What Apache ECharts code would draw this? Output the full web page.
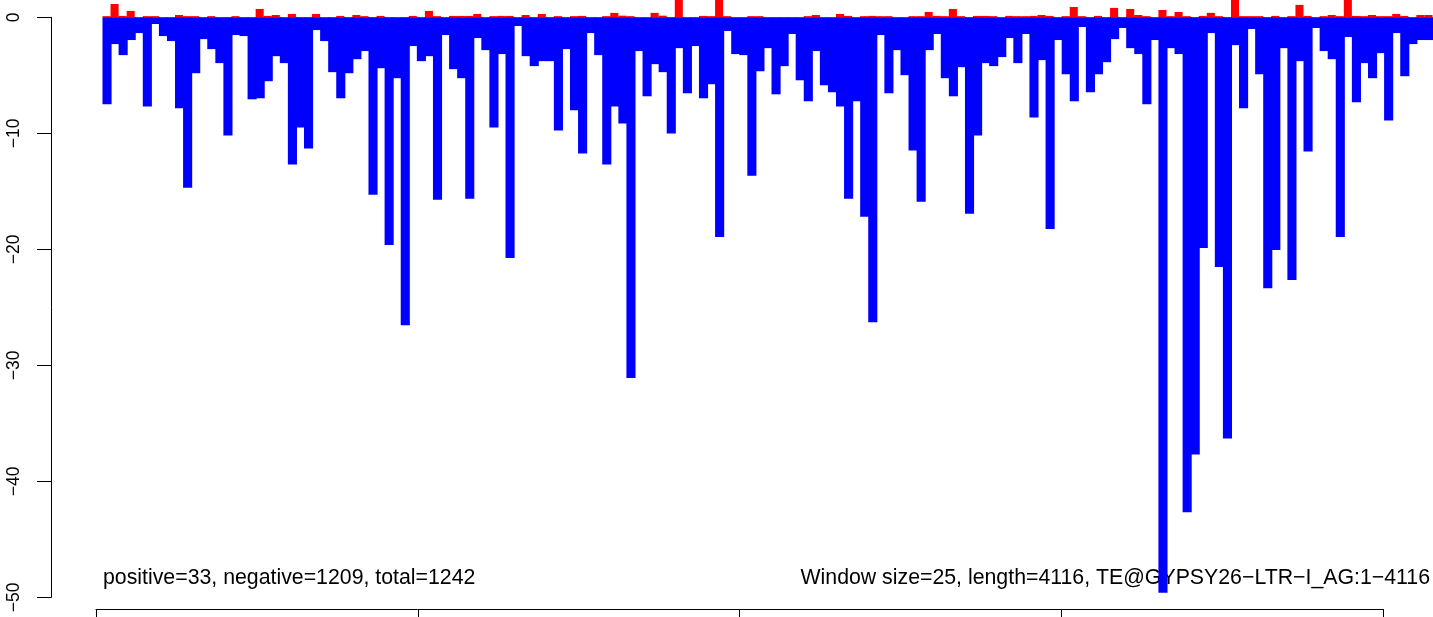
<!DOCTYPE html>
<html>
<head>
<meta charset="utf-8">
<script src="https://cdn.jsdelivr.net/npm/echarts@6/dist/echarts.min.js"></script>
<style>html,body{margin:0;padding:0;background:#fff}#c{width:1433px;height:617px}</style>
</head>
<body>
<div id="c"></div>
<script>
// window start positions (window size 25)
const windowStarts = Array.from({length:165}, (_, i) => i * 25 + 1);
const negativeValues = [
-7.50,-2.31,-3.26,-1.96,-1.36,-7.68,-0.58,-1.62,-2.05,-7.85,
-14.69,-4.82,-1.88,-2.74,-3.95,-10.19,-1.53,-1.62,-7.07,-6.98,
-5.51,-3.35,-3.95,-12.70,-9.49,-11.31,-1.10,-2.05,-4.73,-6.98,
-4.82,-3.61,-2.91,-15.30,-4.39,-19.62,-5.25,-26.55,-2.48,-3.78,
-3.35,-15.73,-1.53,-4.47,-5.25,-15.64,-1.79,-2.83,-9.49,-3.17,
-20.75,-0.75,-3.35,-4.21,-3.78,-3.78,-9.75,-2.74,-8.02,-11.75,
-1.36,-3.26,-12.70,-7.68,-9.15,-31.10,-2.91,-6.81,-4.04,-4.73,
-10.01,-2.66,-6.55,-2.48,-6.98,-5.77,-18.93,-1.18,-3.17,-3.26,
-13.65,-4.65,-2.66,-6.64,-4.21,-1.44,-5.43,-7.24,-2.91,-5.86,
-6.46,-7.68,-15.64,-7.24,-17.20,-26.29,-1.53,-6.55,-2.83,-4.99,
-11.49,-15.90,-2.83,-1.44,-5.25,-6.81,-4.30,-16.94,-10.19,-3.95,
-4.21,-3.43,-1.79,-3.95,-1.44,-8.63,-3.69,-18.24,-1.96,-4.91,
-7.24,-0.84,-6.46,-4.91,-3.87,-1.88,-0.92,-2.66,-3.17,-7.50,
-1.96,-49.60,-2.66,-3.17,-42.66,-37.70,-19.89,-1.36,-21.53,-36.30,
-2.40,-7.85,-1.01,-4.91,-23.35,-20.06,-2.66,-22.65,-3.78,-11.57,
-0.92,-2.91,-3.61,-18.93,-1.70,-7.33,-3.95,-5.25,-3.09,-8.89,
-1.36,-5.08,-2.31,-1.96,-1.96
];
const positiveValues = [
0.1,1.15,0.12,0.55,0,0.1,0.1,0,0,0.2,
0.1,0.1,0,0.1,0,0,0.1,0,0,0.72,
0.12,0.2,0,0.29,0,0,0.29,0,0,0.12,
0,0.2,0.1,0,0.12,0,0,0,0.12,0,
0.55,0.1,0,0.12,0.12,0.12,0.29,0,0.1,0.12,
0.12,0,0.2,0,0.29,0,0.1,0,0.1,0.12,
0,0,0.1,0.38,0.14,0.1,0,0,0.38,0.14,
0,1.6,0,0,0.12,0.1,1.8,0.1,0,0,
0.1,0.1,0,0,0,0,0,0.1,0.2,0,
0,0.29,0.12,0,0.1,0.12,0.1,0.1,0,0,
0.1,0.1,0.46,0.12,0.1,0.72,0.1,0,0.12,0.12,
0.1,0,0.12,0.1,0.1,0.12,0.2,0.12,0,0.1,
0.89,0.1,0,0.12,0,0.81,0,0.72,0.2,0.1,
0,0.63,0.1,0.46,0.1,0,0.12,0.38,0.1,0,
1.6,0.1,0.1,0.1,0,0.12,0,0.1,1.07,0.12,
0,0.1,0.2,0.1,1.6,0.12,0.1,0.2,0.1,0.1,
0.29,0.12,0,0.2,0.2
];
const yTicks = [0, -10, -20, -30, -40, -50];
const xTicks = [0, 1000, 2000, 3000, 4000];
const leftNote = 'positive=33, negative=1209, total=1242';
const rightNote = 'Window size=25, length=4116, TE@GYPSY26\u2212LTR\u2212I_AG:1\u22124116';

const chart = echarts.init(document.getElementById('c'), null, {renderer: 'canvas'});
const fmt = v => v < 0 ? '\u2212' + Math.abs(v) : String(v);
const noteStyle = {fontFamily: 'Liberation Sans, Arial, sans-serif', fontSize: 21.3, fontWeight: 'normal', color: '#000'};
chart.setOption({
  animation: false,
  backgroundColor: '#fff',
  title: [
    {text: leftNote, left: 103, top: 568, padding: 0, z: 0, textStyle: noteStyle},
    {text: rightNote, right: 3, top: 568, padding: 0, z: 0, textStyle: noteStyle}
  ],
  grid: [
    {left: 103, right: 0, top: 17.3, height: 580, containLabel: false},
    {left: 96, width: 1287, top: 600, height: 9, containLabel: false}
  ],
  xAxis: [
    {gridIndex: 0, type: 'category', data: windowStarts, show: false},
    {gridIndex: 1, type: 'value', min: xTicks[0], max: xTicks[xTicks.length - 1], interval: 1000,
     axisLine: {show: true, lineStyle: {color: '#000', width: 1}},
     axisTick: {show: true, length: 8, lineStyle: {color: '#000', width: 1}},
     axisLabel: {show: false}, splitLine: {show: false}}
  ],
  yAxis: [
    {gridIndex: 0, type: 'value', min: yTicks[yTicks.length - 1], max: yTicks[0], interval: 10, offset: 52,
     axisLine: {show: true, onZero: false, lineStyle: {color: '#000', width: 1}},
     axisTick: {show: true, length: 14, lineStyle: {color: '#000', width: 1}},
     axisLabel: {show: true, rotate: 90, margin: 28, formatter: fmt,
       fontFamily: 'Liberation Sans, Arial, sans-serif', fontSize: 17.5, color: '#000'},
     splitLine: {show: false}},
    {gridIndex: 1, type: 'value', show: false}
  ],
  series: [
    {type: 'bar', name: 'positive', xAxisIndex: 0, yAxisIndex: 0, data: positiveValues,
     barWidth: '100%', barGap: '-100%', clip: false, z: 3,
     itemStyle: {color: '#ff0000'}},
    {type: 'bar', name: 'negative', xAxisIndex: 0, yAxisIndex: 0, data: negativeValues,
     barWidth: '113%', barGap: '-100%', clip: false, z: 3,
     itemStyle: {color: '#0000ff'},
     markLine: {silent: true, symbol: 'none', z: 1, label: {show: false},
       lineStyle: {color: '#bebebe', width: 1, type: 'solid'},
       data: [{yAxis: 0}]}}
  ]
});
</script>
</body>
</html>
